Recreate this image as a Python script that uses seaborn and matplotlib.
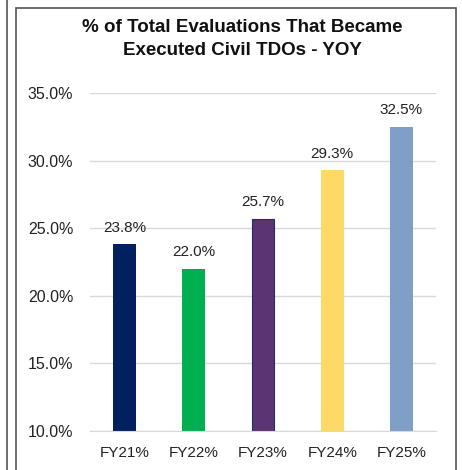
import pandas as pd
import seaborn as sns
import matplotlib.pyplot as plt
from matplotlib.patches import Rectangle
from matplotlib.lines import Line2D

# data
years = ["FY21%", "FY22%", "FY23%", "FY24%", "FY25%"]
pct = [23.8, 22.0, 25.7, 29.3, 32.5]
colors = ["#002060", "#00B050", "#5B3473", "#FFD966", "#7F9FC6"]
yticks = [10, 15, 20, 25, 30, 35]

sns.set_style("white")
plt.rcParams["font.family"] = ["Liberation Sans", "DejaVu Sans"]

df = pd.DataFrame({"year": years, "pct": pct})

fig = plt.figure(figsize=(4.62, 4.70), dpi=100)
ax = fig.add_axes([90 / 462, 1 - 431 / 470, 346 / 462, 338 / 470])

sns.barplot(data=df, x="year", y="pct", hue="year", palette=colors, saturation=1,
            width=0.33, legend=False, ax=ax, linewidth=0)
ax.patches[2].set_edgecolor("#1F2F6B")
ax.patches[2].set_linewidth(0.8)

for i, v in enumerate(pct):
    ax.text(i, v + 0.7, f"{v:.1f}%", ha="center", va="bottom", fontsize=11, color="#222222")

ax.set_ylim(10, 35)
ax.set_yticks(yticks)
ax.set_yticklabels([f"{t:.1f}%" for t in yticks])
ax.grid(axis="y", color="#D9D9D9", linewidth=1)
ax.set_axisbelow(True)
for s in ["top", "right", "left"]:
    ax.spines[s].set_visible(False)
ax.spines["bottom"].set_color("#D9D9D9")
ax.tick_params(axis="y", length=0, pad=12, labelsize=11.5, labelcolor="#222222")
ax.tick_params(axis="x", length=0, pad=11, labelsize=11, labelcolor="#222222")
ax.set_xlabel("")
ax.set_ylabel("")

fig.text(0.525, 1 - 39 / 470, "% of Total Evaluations That Became\nExecuted Civil TDOs - YOY",
         ha="center", va="center", fontsize=13.5, fontweight="bold", linespacing=1.5,
         color="#111111")

# chart frame and neighbour panel edge
fig.add_artist(Rectangle((16 / 462, -0.05), 440 / 462, 1.05 - 8 / 470, transform=fig.transFigure,
                         fill=False, edgecolor="#555555", linewidth=1.2))
fig.add_artist(Line2D([7 / 462, 7 / 462], [0, 1], transform=fig.transFigure,
                      color="#555555", linewidth=1.2))

fig.savefig("out.png", dpi=100)
